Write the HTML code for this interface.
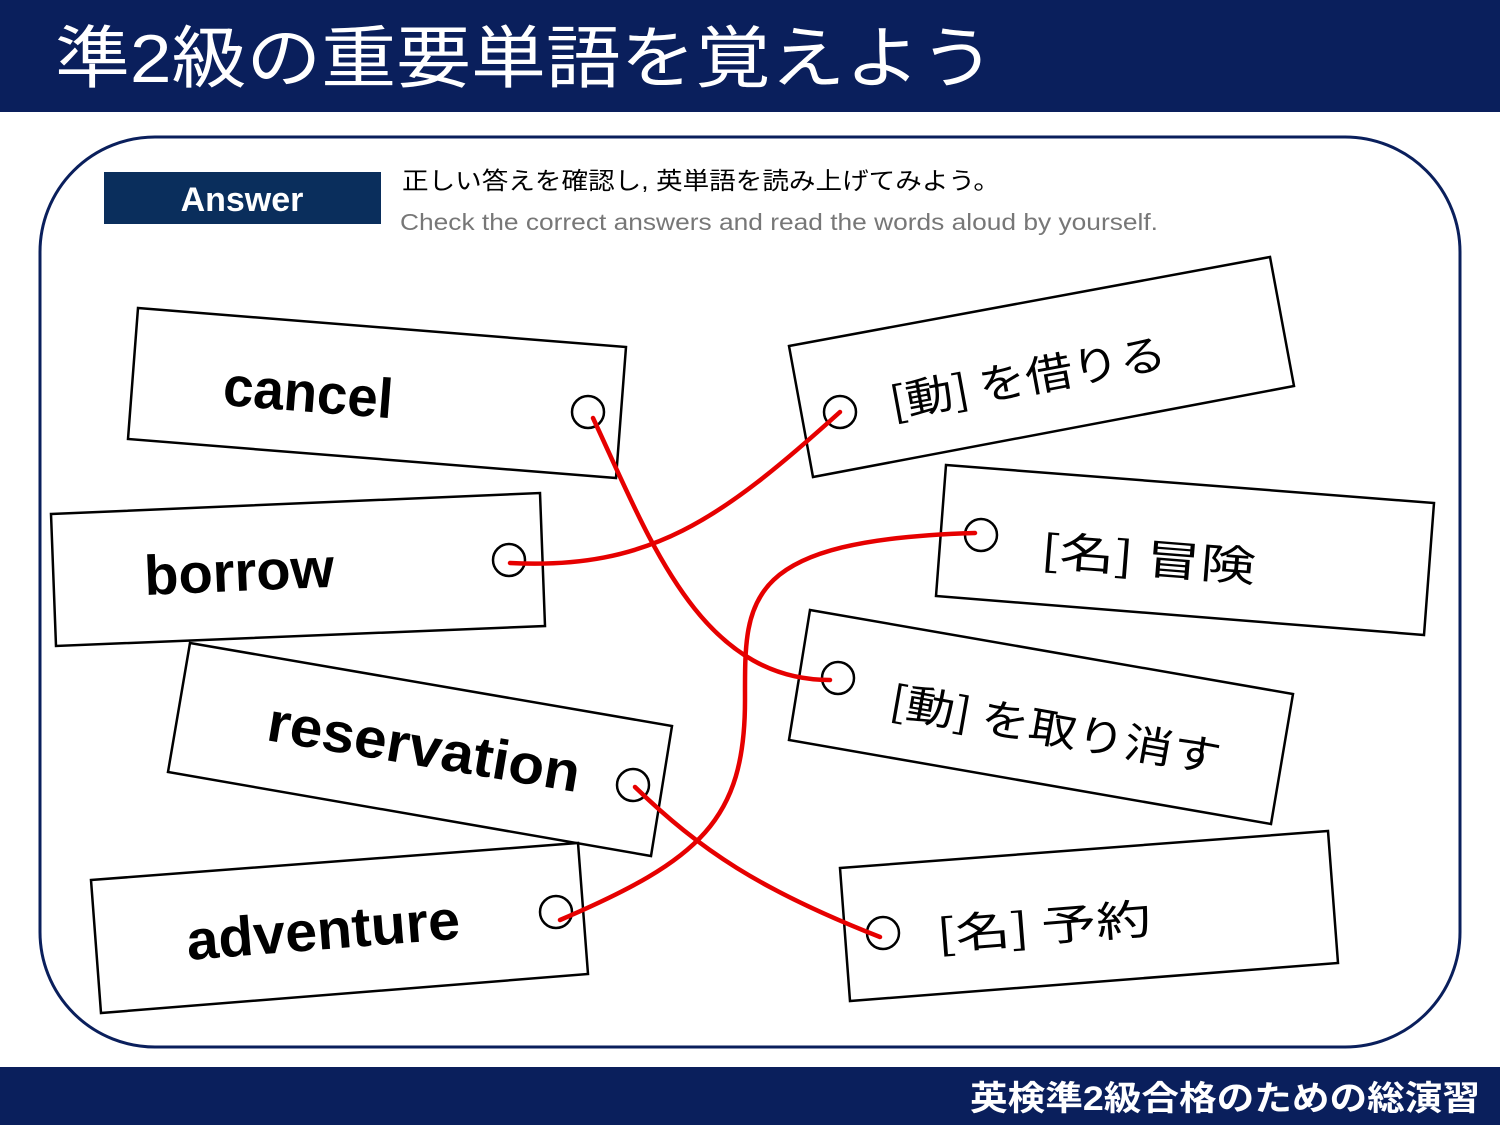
<!DOCTYPE html>
<html><head><meta charset="utf-8"><style>
html,body{margin:0;padding:0;background:#fff}
svg{display:block}
.jp{font-family:"Liberation Sans","Noto Sans CJK JP",sans-serif}
.w{font-family:"Liberation Sans","Noto Sans CJK JP",sans-serif;font-weight:bold;font-size:56px;fill:#000}
.m{font-family:"Noto Sans CJK JP",sans-serif;font-size:42px;fill:#000}
</style></head><body>
<svg width="1500" height="1125" viewBox="0 0 1500 1125" xmlns="http://www.w3.org/2000/svg">
<rect x="0" y="0" width="1500" height="112" fill="#0a1f5c"/>
<text x="55" y="82" class="jp" font-size="68" fill="#fff" textLength="940" lengthAdjust="spacingAndGlyphs">準2級の重要単語を覚えよう</text>
<rect x="0" y="1067" width="1500" height="58" fill="#0a1f5c"/>
<text x="970" y="1110" class="jp" font-size="34" font-weight="bold" fill="#fff" textLength="510" lengthAdjust="spacingAndGlyphs">英検準2級合格のための総演習</text>
<rect x="40" y="137" width="1420" height="910" rx="115" fill="#fff" stroke="#0a1f5c" stroke-width="3"/>
<rect x="104" y="172" width="277" height="52" fill="#0a2e5c"/>
<text x="242" y="211" text-anchor="middle" font-family="Liberation Sans,sans-serif" font-weight="bold" font-size="34" fill="#fff">Answer</text>
<text x="402" y="189" class="jp" font-size="24" fill="#000" textLength="598" lengthAdjust="spacingAndGlyphs">正しい答えを確認し, 英単語を読み上げてみよう。</text>
<text x="400" y="230" font-family="Liberation Sans,sans-serif" font-size="23" fill="#777" textLength="758" lengthAdjust="spacingAndGlyphs">Check the correct answers and read the words aloud by yourself.</text>
<g fill="#fff" stroke="#000" stroke-width="2.5">
<polygon points="138,308 626,347 616,478 128,439"/>
<polygon points="51,514 540,493 545,626 56,646"/>
<polygon points="190,643 672,726 651,856 168,772"/>
<polygon points="91,880 578,843 588,974 101,1013"/>
<polygon points="789,346 1270,257 1294,386 813,477"/>
<polygon points="946,465 1434,503 1424,635 936,596"/>
<polygon points="810,610 1293,694 1271,824 789,740"/>
<polygon points="840,868 1328,831 1338,963 850,1001"/>
<circle cx="588" cy="412" r="16"/><circle cx="509" cy="560" r="16"/>
<circle cx="633" cy="785" r="16"/><circle cx="556" cy="912" r="16"/>
<circle cx="840" cy="412" r="16"/><circle cx="981" cy="535" r="16"/>
<circle cx="838" cy="678" r="16"/><circle cx="883" cy="933" r="16"/>
</g>
<text class="w" transform="translate(222,405) rotate(4.5)" textLength="170" lengthAdjust="spacingAndGlyphs">cancel</text>
<text class="w" transform="translate(145,595) rotate(-2.5)" textLength="190" lengthAdjust="spacingAndGlyphs">borrow</text>
<text class="w" transform="translate(265,740) rotate(9.5)" textLength="316" lengthAdjust="spacingAndGlyphs">reservation</text>
<text class="w" transform="translate(188,960) rotate(-4.5)" textLength="274" lengthAdjust="spacingAndGlyphs">adventure</text>
<text class="m" transform="translate(893,418) rotate(-10.5)" textLength="280" lengthAdjust="spacingAndGlyphs">[動] を借りる</text>
<text class="m" transform="translate(1040,565) rotate(4.5)" textLength="215" lengthAdjust="spacingAndGlyphs">[名] 冒険</text>
<text class="m" transform="translate(888,715) rotate(10)" textLength="335" lengthAdjust="spacingAndGlyphs">[動] を取り消す</text>
<text class="m" transform="translate(938,950) rotate(-4.5)" textLength="215" lengthAdjust="spacingAndGlyphs">[名] 予約</text>
<g fill="none" stroke="#e60000" stroke-width="4.5" stroke-linecap="round">
<path d="M593,418 C650,540 700,680 830,680"/>
<path d="M510,563 C650,570 720,520 840,412"/>
<path d="M560,920 C700,860 745,820 745,700 C745,600 740,540 975,533"/>
<path d="M635,787 C700,850 760,890 880,937"/>
</g>
</svg>
</body></html>
